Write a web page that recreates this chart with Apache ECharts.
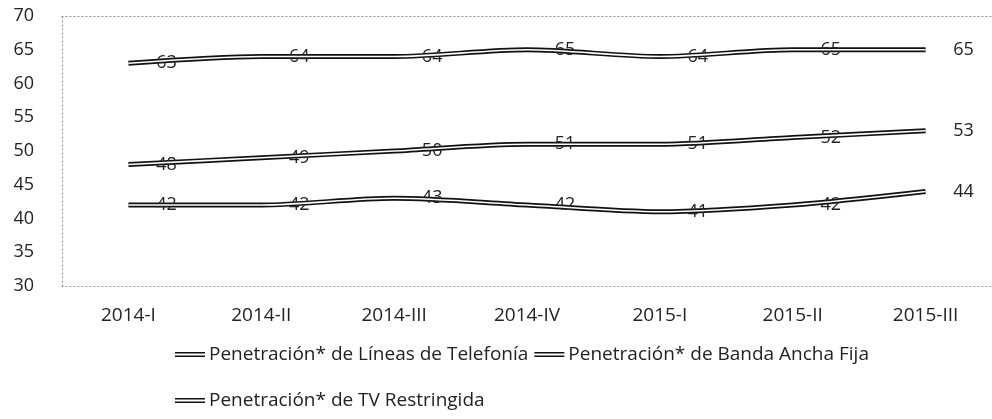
<!DOCTYPE html>
<html>
<head>
<meta charset="utf-8">
<script src="https://cdn.jsdelivr.net/npm/echarts@6/dist/echarts.min.js"></script>
<style>
  html, body { margin: 0; background: #fff; }
  #chart { width: 992px; height: 419px; }
</style>
</head>
<body>
<div id="chart"></div>
<script>
// datos
const periodos = ["2014-I", "2014-II", "2014-III", "2014-IV", "2015-I", "2015-II", "2015-III"];
const telefonia = [63, 64, 64, 65, 64, 65, 65];
const bandaAncha = [48, 49, 50, 51, 51, 52, 53];
const tvRestringida = [42, 42, 43, 42, 41, 42, 44];
const nombres = [
  "Penetración* de Líneas de Telefonía",
  "Penetración* de Banda Ancha Fija",
  "Penetración* de TV Restringida"
];
const ejeY = { min: 30, max: 70, interval: 5 };

const fuente = "Open Sans";
const iconoDoble = "path://M0,0H40V2H0Z M0,4.5H40V6.5H0Z";
const punteado = { color: "#888", type: [1, 3], width: 1 };

// linea doble: trazo negro grueso y trazo blanco fino encima
function lineaDoble(nombre, datos) {
  return [
    {
      name: nombre,
      type: "line",
      data: datos,
      smooth: 0.3,
      symbol: "circle",
      symbolSize: 1,
      itemStyle: { color: "#111", opacity: 0 },
      lineStyle: { color: "#111", width: 5 },
      label: {
        show: true,
        position: "inside",
        offset: [38, 0],
        color: "#222",
        fontFamily: fuente,
        fontSize: 18,
        opacity: 1
      },
      z: 2
    },
    {
      name: nombre,
      type: "line",
      data: datos,
      smooth: 0.3,
      showSymbol: false,
      silent: true,
      lineStyle: { color: "#fff", width: 1.6 },
      z: 3
    }
  ];
}

const leyendaBase = {
  icon: iconoDoble, itemWidth: 30, itemHeight: 7, itemGap: 6,
  itemStyle: { color: "#111", opacity: 1 },
  textStyle: { fontFamily: fuente, fontSize: 19, color: "#222", padding: [0, 0, 0, -1] }
};

const chart = echarts.init(document.getElementById("chart"));
chart.setOption({
  animation: false,
  grid: { left: 62, top: 16, width: 933, height: 270 },
  legend: [
    Object.assign({ data: [nombres[0], nombres[1]], left: 170, top: 340 }, leyendaBase),
    Object.assign({ data: [nombres[2]], left: 170, top: 386 }, leyendaBase)
  ],
  xAxis: [
    {
      type: "category",
      data: periodos,
      boundaryGap: true,
      axisLine: { lineStyle: punteado },
      axisTick: { show: false },
      axisLabel: { color: "#222", fontFamily: fuente, fontSize: 19, margin: 20 }
    },
    {
      type: "category",
      data: periodos,
      position: "top",
      axisLine: { lineStyle: punteado },
      axisTick: { show: false },
      axisLabel: { show: false }
    }
  ],
  yAxis: {
    type: "value",
    min: ejeY.min, max: ejeY.max, interval: ejeY.interval,
    axisLine: { show: true, lineStyle: punteado },
    axisTick: { show: false },
    splitLine: { show: false },
    axisLabel: { color: "#222", fontFamily: fuente, fontSize: 18, margin: 28 }
  },
  series: [
    ...lineaDoble(nombres[0], telefonia),
    ...lineaDoble(nombres[1], bandaAncha),
    ...lineaDoble(nombres[2], tvRestringida)
  ]
});
</script>
</body>
</html>
